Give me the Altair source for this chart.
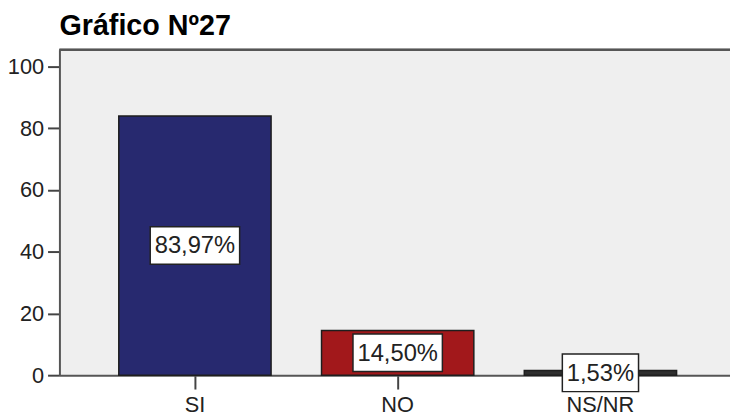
import altair as alt
import pandas as pd

categories = ["SI", "NO", "NS/NR"]
values = [83.97, 14.50, 1.53]
labels = ["83,97%", "14,50%", "1,53%"]
colors = ["#27296f", "#a2181b", "#2e2e2e"]
y_ticks = [0, 20, 40, 60, 80, 100]
title_text = "Gráfico Nº27"

FONT = "Liberation Sans"
W, H = 678, 329
LABEL_FS = 24

# approximate text width (Arial metrics) to size the white label boxes
char_w = {"%": 0.889, ",": 0.278}


def box_width(s):
    return sum(char_w.get(c, 0.556) for c in s) * LABEL_FS + 9


rows = []
for c, v, l, col in zip(categories, values, labels, colors):
    w = box_width(l)
    hh = round(19 / (w / 2), 4)
    path = f"M-1,-{hh} L1,-{hh} L1,{hh} L-1,{hh} Z"
    rows.append(dict(cat=c, val=v, half=v / 2, label=l, color=col,
                     size=w * w, shape=path))
df = pd.DataFrame(rows)

x_scale = alt.Scale(range=[0, 684], paddingInner=0.2488, paddingOuter=0.2927)
y_scale = alt.Scale(domain=[0, 105.4], nice=False, zero=True)

x_axis = alt.Axis(title=None, labelAngle=0, labelFont=FONT, labelFontSize=22,
                  labelColor="#222", tickSize=14, tickWidth=2, tickColor="#444",
                  domainColor="#555", domainWidth=2, labelPadding=6, grid=False)
y_axis = alt.Axis(title=None, values=y_ticks, labelFont=FONT, labelFontSize=22,
                  labelColor="#222", tickSize=12, tickWidth=2, tickColor="#444",
                  domainColor="#555", domainWidth=2, labelPadding=4, grid=False)

X = alt.X("cat:N", sort=categories, scale=x_scale, axis=x_axis)

base = alt.Chart(df)

bars = base.mark_bar(stroke="#1e1e1e", strokeWidth=1.5).encode(
    x=X,
    y=alt.Y("val:Q", scale=y_scale, axis=y_axis),
    color=alt.Color("color:N", scale=None),
)

boxes = base.mark_point(filled=True, fill="white", stroke="#222",
                        strokeWidth=1.5, opacity=1).encode(
    x=X,
    y=alt.Y("half:Q", scale=y_scale, axis=y_axis),
    shape=alt.Shape("shape:N", scale=None),
    size=alt.Size("size:Q", scale=None),
)

texts = base.mark_text(font=FONT, fontSize=LABEL_FS, color="#222",
                       baseline="middle", dy=1).encode(
    x=X,
    y=alt.Y("half:Q", scale=y_scale, axis=y_axis),
    text="label:N",
)

top_border = base.mark_rule(color="#555", strokeWidth=2).encode(
    x=alt.value(0), x2=alt.value(W), y=alt.value(0)
)

chart = alt.layer(bars, boxes, texts, top_border).properties(
    width=W,
    height=H,
    title=alt.TitleParams(title_text, anchor="start", frame="group", font=FONT,
                          fontSize=29, fontWeight="bold", color="#000", offset=8),
    autosize=alt.AutoSizeParams(type="none"),
    padding={"left": 52, "top": 40, "right": 0, "bottom": 39},
    background="white",
).configure_view(stroke=None, fill="#efefef")

chart.save("out.html", embed_options={"renderer": "svg", "actions": False})
